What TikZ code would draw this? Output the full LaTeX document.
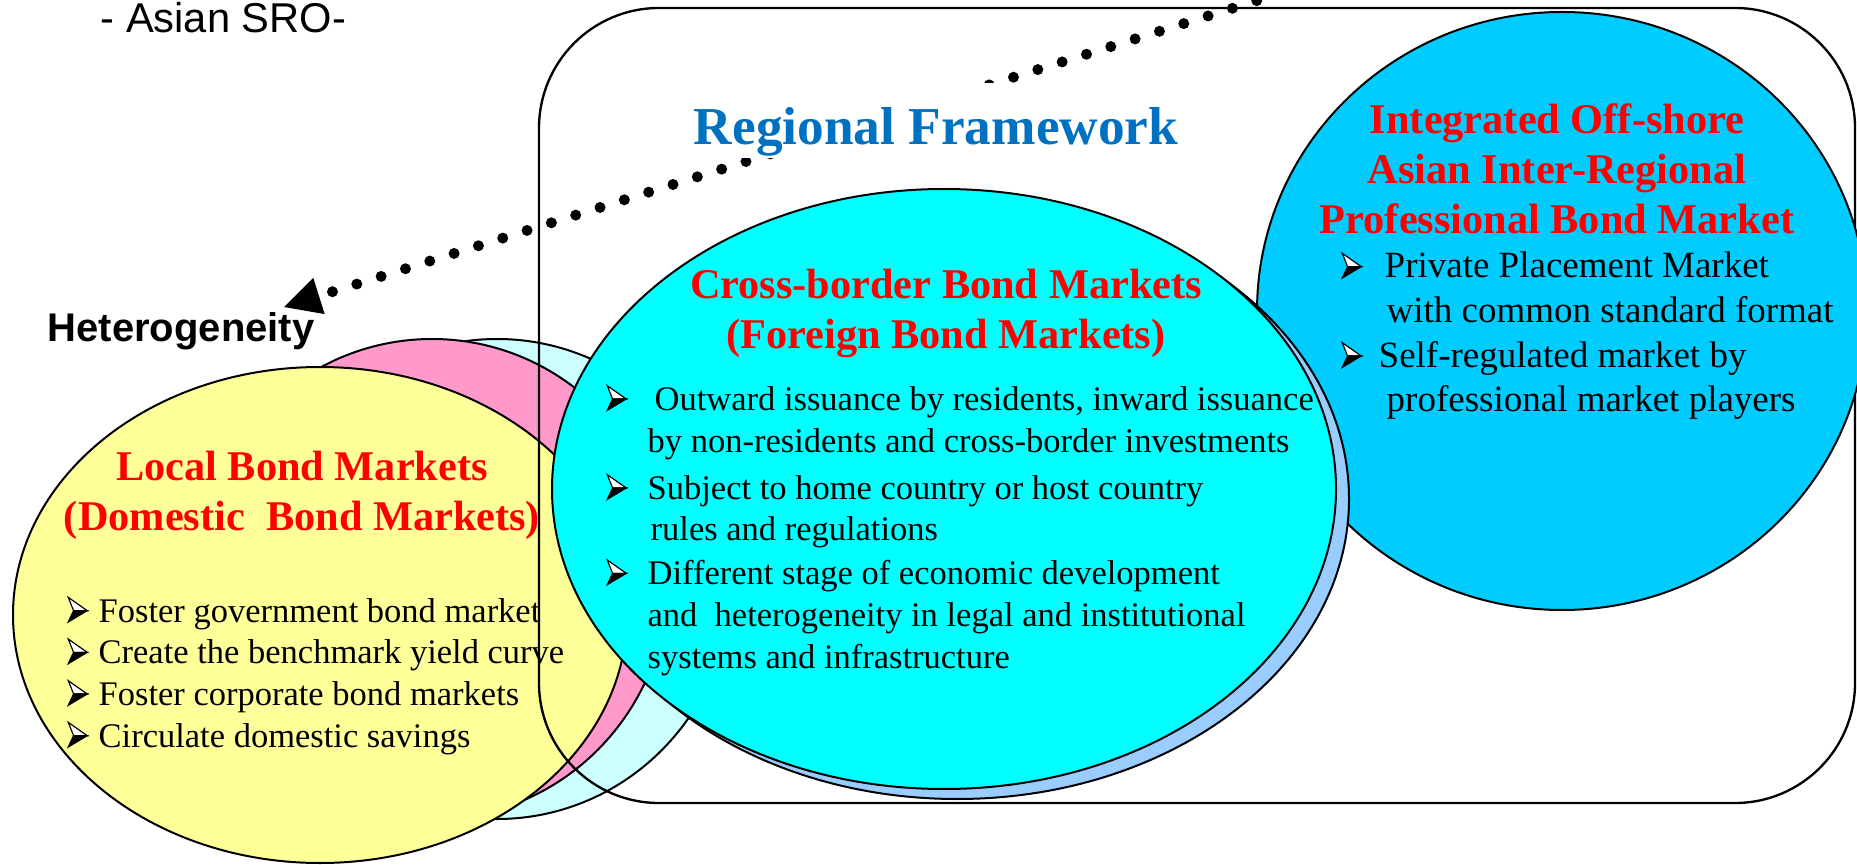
\documentclass[tikz,border=0pt]{standalone}
\usepackage{fontspec}
\setmainfont{Liberation Serif}
\setsansfont{Liberation Sans}
\usetikzlibrary{shapes.geometric, arrows.meta}

\definecolor{lightyellow}{HTML}{FFFF99}
\definecolor{rose}{HTML}{FF99CC}
\definecolor{palecyan}{HTML}{CCFFFF}
\definecolor{aqua}{HTML}{00FFFF}
\definecolor{shadowblue}{HTML}{99CCFF}
\definecolor{skyblue}{HTML}{00CCFF}
\definecolor{frameblue}{HTML}{0070C0}

% arrowhead bullet: light upper half, black lower half
\newcommand{\bul}{\tikz[baseline=0pt, x=1pt, y=1pt]{%
    \filldraw[line width=0.35pt, fill=white, line join=miter] (0,7.4) -- (5.7,3.4) -- (1.6,3.4) -- cycle;
    \filldraw[line width=0.35pt, line join=miter] (0,0) -- (5.7,3.4) -- (1.6,3.4) -- cycle;}}

\begin{document}
\begin{tikzpicture}[x=0.3pt, y=-0.3pt,
    bubble/.style={ellipse, draw=black, line width=0.6pt, inner sep=0pt},
    heading/.style={text=red, align=center, anchor=base, inner sep=0pt,
                    font=\bfseries\fontsize{12.7}{15}\selectfont},
    items/.style={align=left, anchor=base west, inner sep=0pt,
                  font=\fontsize{10.35}{12.5}\selectfont},
    dots/.style={line width=3.3pt, line cap=round,
                 dash pattern=on 0pt off 7.65pt}]
    \useasboundingbox (0,0) rectangle (1857,865);
    \clip (0,0) rectangle (1857,865);

    % Local bond markets and the two behind it
        \node[bubble,
              fill=palecyan,
              minimum width=141pt,
              minimum height=144pt] (pale) at (497,579) {};
        \node[bubble,
              fill=rose,
              minimum width=141.6pt,
              minimum height=144pt] (pink) at (432,579) {};
        \node[bubble,
              fill=lightyellow,
              minimum width=184.2pt,
              minimum height=148.8pt] (local) at (320,615) {};

    % Regional framework
        \node[draw=black,
              line width=0.7pt,
              rounded corners=36pt,
              minimum width=394.8pt,
              minimum height=238.5pt] (region) at (1197,405.5) {};

    % Off-shore and cross-border markets
        \node[bubble,
              fill=skyblue,
              minimum width=183pt,
              minimum height=179.4pt] (offshore) at (1562,311) {};
        \node[bubble,
              fill=shadowblue,
              minimum width=235.2pt,
              minimum height=180pt] (shadow) at (957,499) {};
        \node[bubble,
              fill=aqua,
              minimum width=235.2pt,
              minimum height=180pt] (cross) at (944,489) {};

    % Headings (placed by their last line)
        \node[heading] (localhead) at (302,530)
              {Local Bond Markets\\(Domestic~ Bond Markets)};
        \node[heading] (crosshead) at (946,349)
              {Cross-border Bond Markets\\(Foreign Bond Markets)};
        \node[heading] (offhead) at (1557,234)
              {Integrated Off-shore\\Asian Inter-Regional\\Professional Bond Market};

    % Bullet lists
        \node[items] (localtxt) at (67,747)
              {\makebox[9.3pt][l]{\bul}Foster government bond market\\
               \makebox[9.3pt][l]{\bul}Create the benchmark yield curve\\
               \makebox[9.3pt][l]{\bul}Foster corporate bond markets\\
               \makebox[9.3pt][l]{\bul}Circulate domestic savings};
        \node[items] (cross1) at (606,452)
              {\makebox[14.4pt][l]{\bul}Outward issuance by residents, inward issuance\\
               \hspace*{12.3pt}by non-residents and cross-border investments};
        \node[items] (cross2) at (606,541)
              {\makebox[12.3pt][l]{\bul}Subject to home country or host country\\
               \hspace*{13.2pt}rules and regulations};
        \node[items] (cross3) at (606,668)
              {\makebox[12.3pt][l]{\bul}Different stage of economic development\\
               \hspace*{12.3pt}and~ heterogeneity in legal and institutional\\
               \hspace*{12.3pt}systems and infrastructure};
        \node[items,
              font=\fontsize{11.1}{13.4}\selectfont] (offtxt) at (1341,412)
              {\makebox[12.9pt][l]{\bul}Private Placement Market\\
               \hspace*{13.5pt}with common standard format\\
               \makebox[11.1pt][l]{\bul}Self-regulated market by\\
               \hspace*{13.5pt}professional market players};

    % Labels in Arial
        \node[anchor=base west, inner sep=0pt,
              font=\sffamily\fontsize{12.5}{15}\selectfont] (sro) at (100,33) {- Asian SRO-};
        \node[anchor=base west, inner sep=0pt,
              font=\sffamily\bfseries\fontsize{12}{14}\selectfont] (hetero) at (47,342) {Heterogeneity};

    % Dotted arrow down to heterogeneity
        \coordinate (from) at (1354,-30);
        \coordinate (tip) at (284,307);
        \draw[dots, -{Triangle[length=11pt, width=11.4pt, line width=0pt]}] (from) -- (tip);

        \node[fill=white,
              anchor=base,
              inner xsep=4pt,
              inner ysep=0pt,
              text height=18.6pt,
              text depth=3.9pt,
              text=frameblue,
              font=\bfseries\fontsize{16}{19}\selectfont] (frame) at (936,145) {Regional Framework};
\end{tikzpicture}
\end{document}
